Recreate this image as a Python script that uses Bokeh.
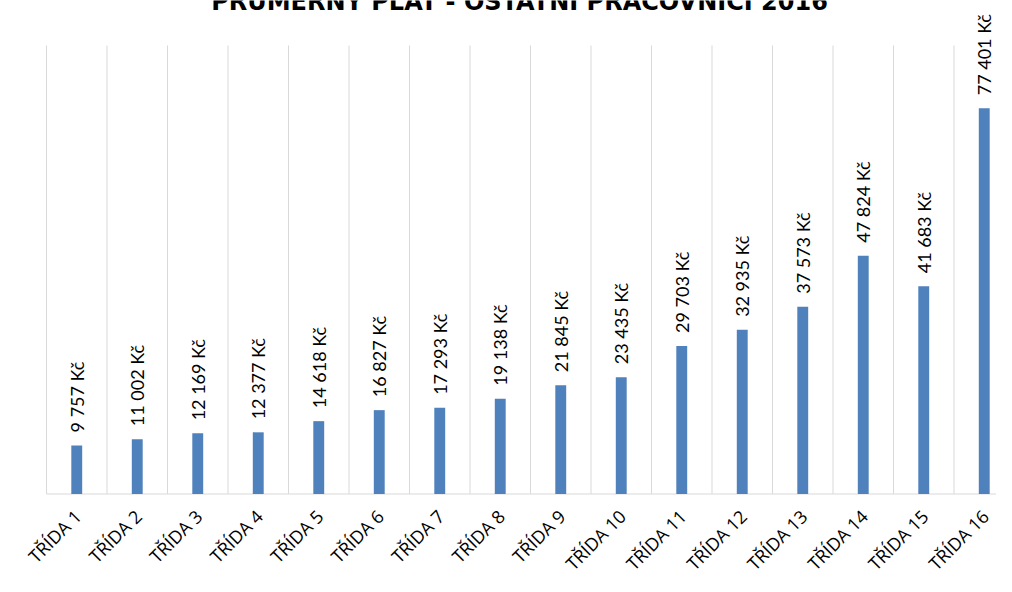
import math
from bokeh.plotting import figure
from bokeh.models import Range1d, Label, ColumnDataSource
from bokeh.core.properties import value
from bokeh.embed import file_html
from bokeh.resources import INLINE

# ---- data ----
title_text = "PRŮMĚRNÝ PLAT - OSTATNÍ PRACOVNÍCI 2016"
categories = ["TŘÍDA 1", "TŘÍDA 2", "TŘÍDA 3", "TŘÍDA 4", "TŘÍDA 5", "TŘÍDA 6",
              "TŘÍDA 7", "TŘÍDA 8", "TŘÍDA 9", "TŘÍDA 10", "TŘÍDA 11", "TŘÍDA 12",
              "TŘÍDA 13", "TŘÍDA 14", "TŘÍDA 15", "TŘÍDA 16"]
salaries = [9757, 11002, 12169, 12377, 14618, 16827, 17293, 19138,
            21845, 23435, 29703, 32935, 37573, 47824, 41683, 77401]
salary_labels = [f"{v:,}".replace(",", " ") + " Kč" for v in salaries]
positions = list(range(1, len(categories) + 1))
Y_MAX = 90000  # value axis maximum (gridline extent)

# ---- layout constants (pixels) ----
W, H = 996, 576
AXIS_Y = 493.5     # canvas y of the value-0 baseline
TOP_Y = 45.0       # canvas y of Y_MAX
LEFT_X = 46.0      # canvas x of the first category's left edge
CAT_PX = 60.5      # pixels per category
PX_PER_VAL = (AXIS_Y - TOP_Y) / Y_MAX

x_start = 0.5 - LEFT_X / CAT_PX
x_end = x_start + W / CAT_PX
y_start = -(H - AXIS_Y) / PX_PER_VAL
y_end = AXIS_Y / PX_PER_VAL

n = len(positions)
src = ColumnDataSource(dict(x=positions, top=salaries, label=salary_labels,
                            cat=categories, zero=[0] * n))
grid_src = ColumnDataSource(dict(x=[x - 0.5 for x in positions],
                                 y0=[0] * n, y1=[Y_MAX] * n))

p = figure(width=W, height=H, output_backend="svg", toolbar_location=None,
           x_range=Range1d(x_start, x_end), y_range=Range1d(y_start, y_end),
           x_axis_location=None, y_axis_location=None,
           min_border_left=0, min_border_right=0,
           min_border_top=0, min_border_bottom=0)
p.outline_line_color = None
p.background_fill_color = "white"
p.border_fill_color = "white"
for g in p.grid:
    g.grid_line_color = None

# vertical category separators (from 0 to axis max)
p.segment(x0="x", y0="y0", x1="x", y1="y1", source=grid_src,
          line_color="#d9d9d9", line_width=1)
# category axis line
p.segment(x0=[positions[0] - 0.5], y0=[0], x1=[positions[-1] + 0.5], y1=[0],
          line_color="#d9d9d9", line_width=1.2)

# bars
p.vbar(x="x", top="top", width=0.18, source=src, fill_color="#4f81bd", line_color=None)

# value labels
p.text(x="x", y="top", text="label", source=src, angle=math.pi / 2,
       text_align="left", text_baseline="middle", y_offset=-13,
       text_font=value("Lato"), text_font_size="18px", text_color="#000000")

# category labels (rotated 45 degrees, ending under each bar)
p.text(x="x", y="zero", text="cat", source=src, angle=math.pi / 4,
       text_align="right", text_baseline="middle", x_offset=1, y_offset=19,
       text_font=value("Open Sans"), text_font_size="18px", text_color="#000000")

# title (cut by the top edge as in the reference)
p.add_layout(Label(x=519, y=H - 1, x_units="screen", y_units="screen",
                   text=title_text, text_align="center", text_baseline="alphabetic",
                   text_font="DejaVu Sans", text_font_style="bold",
                   text_font_size="24px", text_color="#000000"))

open("out.html", "w").write(file_html(p, INLINE))
